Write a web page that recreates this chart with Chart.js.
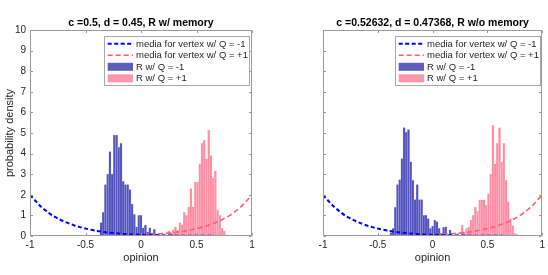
<!DOCTYPE html>
<html>
<head>
<meta charset="utf-8">
<script src="https://cdn.jsdelivr.net/npm/chart.js@4.4.1/dist/chart.umd.min.js"></script>
<style>
  html, body { margin: 0; padding: 0; background: #fff; }
  #wrap { position: relative; width: 548px; height: 275px; }
  .pane { position: absolute; top: 0; width: 274px; height: 275px; }
</style>
</head>
<body>
<div id="wrap">
  <div class="pane" style="left:0"><canvas id="leftChart"></canvas></div>
  <div class="pane" style="left:274px"><canvas id="rightChart"></canvas></div>
</div>
<script>
// ── DATA ──────────────────────────────────────────────────────

const leftTitle = 'c =0.5, d = 0.45, R w/ memory';
const rightTitle = 'c =0.52632, d = 0.47368, R w/o memory';

const opinionTickLabels = ['-1', '-0.5', '0', '0.5', '1'];

// bin centres (opinion) and probability density
const leftBlueBins = [-0.36, -0.34, -0.32, -0.30, -0.28, -0.26, -0.24, -0.22, -0.20, -0.18, -0.16, -0.14, -0.12, -0.10,
  -0.08, -0.06, -0.04, -0.02, 0.00, 0.02, 0.04, 0.06, 0.08, 0.10, 0.12, 0.14, 0.16];
const leftBlueDensity = [0.65, 1.15, 2.5, 3.0, 4.1, 3.0, 4.9, 4.9, 4.3, 4.5, 2.65, 2.5, 2.5, 2.25,
  1.55, 1.05, 0.45, 1.0, 1.0, 0.4, 0.53, 0.2, 0.4, 0.15, 0.32, 0.1, 0.05];

const leftPinkBins = [0.19, 0.21, 0.23, 0.25, 0.27, 0.29, 0.31, 0.33, 0.35, 0.37, 0.39, 0.41, 0.43, 0.45, 0.47,
  0.49, 0.51, 0.53, 0.55, 0.57, 0.59, 0.61, 0.63, 0.65, 0.67, 0.69, 0.71, 0.73, 0.75];
const leftPinkDensity = [0.05, 0.1, 0.05, 0.25, 0.15, 0.3, 0.45, 0.3, 0.65, 0.55, 1.15, 1.0, 1.42, 2.3, 1.42,
  2.63, 2.63, 3.5, 4.5, 4.65, 3.75, 5.13, 3.9, 2.8, 3.15, 1.26, 1.0, 0.37, 0.24];

const rightBlueBins = [-0.38, -0.36, -0.34, -0.32, -0.30, -0.28, -0.26, -0.24, -0.22, -0.20, -0.18, -0.16, -0.14, -0.12, -0.10,
  -0.08, -0.06, -0.04, -0.02, 0.00, 0.02, 0.04, 0.06, 0.08, 0.10, 0.12, 0.14, 0.16, 0.18, 0.20];
const rightBlueDensity = [0.16, 0.37, 1.39, 2.5, 2.74, 3.76, 5.26, 5.05, 5.16, 3.6, 2.7, 1.77, 2.5, 1.77, 1.77,
  1.0, 1.0, 0.85, 0.37, 0.48, 0.77, 0.7, 0.37, 0.13, 0.42, 0.45, 0.05, 0.3, 0.05, 0.05];

const rightPinkBins = [0.17, 0.19, 0.21, 0.23, 0.25, 0.27, 0.29, 0.31, 0.33, 0.35, 0.37, 0.39, 0.41, 0.43, 0.45, 0.47,
  0.49, 0.51, 0.53, 0.55, 0.57, 0.59, 0.61, 0.63, 0.65, 0.67, 0.69, 0.71, 0.73, 0.75, 0.77];
const rightPinkDensity = [0.03, 0.05, 0.05, 0.13, 0.05, 0.53, 0.2, 0.37, 0.45, 0.77, 1.0, 1.4, 1.2, 1.75, 1.75, 1.75,
  1.5, 2.06, 3.0, 5.37, 3.5, 4.5, 5.26, 3.6, 4.5, 2.7, 1.66, 0.85, 0.5, 0.13, 0.08];

// media curves (same in both panels)
const mediaX = [-1, -0.95, -0.9, -0.85, -0.8, -0.75, -0.7, -0.65, -0.6, -0.55, -0.5, -0.4, -0.3, -0.2, -0.1, 0,
  0.1, 0.2, 0.3, 0.4, 0.5, 0.55, 0.6, 0.65, 0.7, 0.75, 0.8, 0.85, 0.9, 0.95, 1];
const mediaNeg = [2.0, 1.7, 1.42, 1.2, 1.0, 0.85, 0.72, 0.61, 0.51, 0.43, 0.36, 0.25, 0.17, 0.12, 0.08, 0.06,
  0.04, 0.03, 0.02, 0.015, 0.01, 0.01, 0.01, 0.005, 0.005, 0.005, 0.005, 0, 0, 0, 0];
const mediaPos = [0, 0, 0, 0, 0.005, 0.005, 0.005, 0.005, 0.01, 0.01, 0.01, 0.015, 0.02, 0.03, 0.04, 0.06,
  0.08, 0.12, 0.17, 0.25, 0.36, 0.43, 0.51, 0.61, 0.72, 0.85, 1.0, 1.2, 1.42, 1.7, 2.0];

const legendLabels = ['media for vertex w/ Q = -1', 'media for vertex w/ Q = +1', 'R w/ Q = -1', 'R w/ Q = +1'];

// ── STYLE ─────────────────────────────────────────────────────

const FONT = '"Liberation Sans", Arial, sans-serif';
const TEXT = '#262626';
const FRAME = '#9a9a9a';
const BLUE_LINE = '#0000ff';
const PINK_LINE = 'rgb(250,95,120)';
const BLUE_BAR = 'rgba(30,30,165,0.72)';
const PINK_BAR = 'rgba(255,105,135,0.7)';

const toPoints = (xs, ys) => xs.map((x, i) => ({ x: x, y: ys[i] }));

// box round the axes with inward tick marks, like the original
const frameBox = {
  id: 'frameBox',
  afterDraw(chart) {
    const { ctx, chartArea: a, scales } = chart;
    const L = Math.round(a.left) + 0.5, R = Math.round(a.right) - 0.5;
    const T = Math.round(a.top) + 0.5, B = Math.round(a.bottom) - 0.5;
    ctx.save();
    ctx.strokeStyle = FRAME;
    ctx.lineWidth = 1;
    ctx.strokeRect(L, T, R - L, B - T);
    ctx.beginPath();
    scales.x.ticks.forEach(t => {
      const px = Math.round(scales.x.getPixelForValue(t.value)) + 0.5;
      ctx.moveTo(px, B); ctx.lineTo(px, B - 2.5);
      ctx.moveTo(px, T); ctx.lineTo(px, T + 2.5);
    });
    scales.y.ticks.forEach(t => {
      const py = Math.round(scales.y.getPixelForValue(t.value)) + 0.5;
      ctx.moveTo(L, py); ctx.lineTo(L + 2.5, py);
      ctx.moveTo(R, py); ctx.lineTo(R - 2.5, py);
    });
    ctx.stroke();
    ctx.restore();
  }
};

const panelTitle = {
  id: 'panelTitle',
  afterDraw(chart, args, opts) {
    const { ctx, chartArea: a } = chart;
    ctx.save();
    ctx.font = 'bold 10.5px ' + FONT;
    ctx.fillStyle = '#000';
    ctx.textAlign = 'center';
    ctx.textBaseline = 'middle';
    ctx.fillText(opts.text, (a.left + a.right) / 2, 23);
    ctx.restore();
  }
};

// legend box inside the top right corner of the axes
const insideLegend = {
  id: 'insideLegend',
  afterDraw(chart) {
    const { ctx, chartArea: a } = chart;
    const w = 145, h = 49;
    const x0 = Math.round(a.right - 2.7 - w) + 0.5, y0 = Math.round(a.top + 6) + 0.5;
    ctx.save();
    ctx.fillStyle = '#fff';
    ctx.fillRect(x0, y0, w, h);
    ctx.strokeStyle = '#a8a8a8';
    ctx.lineWidth = 1;
    ctx.strokeRect(x0, y0, w, h);
    ctx.font = '9.5px ' + FONT;
    ctx.textBaseline = 'middle';
    chart.data.datasets.forEach((ds, i) => {
      const y = y0 + 7.3 + i * 11.5;
      const sx = x0 + 3.2, ex = x0 + 28.5;
      if (ds.type === 'line') {
        ctx.strokeStyle = ds.borderColor;
        ctx.lineWidth = ds.borderWidth;
        ctx.setLineDash(ds.borderDash);
        ctx.beginPath();
        ctx.moveTo(sx, y); ctx.lineTo(ex, y);
        ctx.stroke();
        ctx.setLineDash([]);
      } else {
        ctx.fillStyle = ds.backgroundColor;
        ctx.fillRect(sx, y - 4, ex - sx, 8);
      }
      ctx.fillStyle = TEXT;
      ctx.fillText(ds.label, x0 + 31.5, y + 0.5);
    });
    ctx.restore();
  }
};

function buildPanel(canvasId, cfg) {
  return new Chart(document.getElementById(canvasId), {
    type: 'bar',
    data: {
      datasets: [
        { type: 'line', label: legendLabels[0], data: toPoints(mediaX, mediaNeg), borderColor: BLUE_LINE,
          borderWidth: 2, borderDash: [4, 2.5], pointRadius: 0, tension: 0.3, order: 0, xAxisID: 'x' },
        { type: 'line', label: legendLabels[1], data: toPoints(mediaX, mediaPos), borderColor: PINK_LINE,
          borderWidth: 1.6, borderDash: [5, 3], pointRadius: 0, tension: 0.3, order: 0, xAxisID: 'x' },
        { label: legendLabels[2], data: toPoints(cfg.blueBins, cfg.blueDensity), backgroundColor: BLUE_BAR,
          borderColor: 'rgba(175,175,235,0.9)', borderWidth: 0.5, grouped: false,
          barPercentage: 1, categoryPercentage: 1, order: 2, xAxisID: 'x' },
        { label: legendLabels[3], data: toPoints(cfg.pinkBins, cfg.pinkDensity), backgroundColor: PINK_BAR,
          borderColor: 'rgba(255,200,210,0.9)', borderWidth: 0.5, grouped: false,
          barPercentage: 1, categoryPercentage: 1, order: 1, xAxisID: 'xp' }
      ]
    },
    options: {
      responsive: true, maintainAspectRatio: false, animation: false,
      layout: { padding: { top: 30, right: cfg.padRight, left: 0, bottom: 0 } },
      scales: {
        x: {
          type: 'linear', min: -1, max: 1, offset: false,
          grid: { display: false, drawTicks: false }, border: { display: false },
          ticks: { stepSize: 0.5, color: TEXT, font: { family: FONT, size: 10 }, padding: 3, maxRotation: 0, autoSkip: false,
            callback: (v, i) => opinionTickLabels[i] },
          title: { display: true, text: 'opinion', color: TEXT, font: { family: FONT, size: 11 }, padding: { top: 0, bottom: 10.5 } },
          afterFit: s => { s.height = 39; }
        },
        xp: { type: 'linear', min: -1, max: 1, offset: false, display: false },
        y: {
          min: 0, max: 10,
          grid: { display: false, drawTicks: false }, border: { display: false },
          ticks: { stepSize: 1, display: cfg.showY, color: TEXT, font: { family: FONT, size: 10 }, padding: 4 },
          title: { display: cfg.showY, text: 'probability density', color: TEXT, font: { family: FONT, size: 11 }, padding: { top: 3, bottom: 0 } },
          afterFit: s => { s.width = cfg.yWidth; }
        }
      },
      plugins: {
        legend: { display: false },
        tooltip: { enabled: false },
        panelTitle: { text: cfg.title }
      }
    },
    plugins: [frameBox, panelTitle, insideLegend]
  });
}

buildPanel('leftChart', {
  title: leftTitle, blueBins: leftBlueBins, blueDensity: leftBlueDensity,
  pinkBins: leftPinkBins, pinkDensity: leftPinkDensity, showY: true, yWidth: 30, padRight: 22
});
buildPanel('rightChart', {
  title: rightTitle, blueBins: rightBlueBins, blueDensity: rightBlueDensity,
  pinkBins: rightPinkBins, pinkDensity: rightPinkDensity, showY: false, yWidth: 49, padRight: 1.5
});
</script>
</body>
</html>
